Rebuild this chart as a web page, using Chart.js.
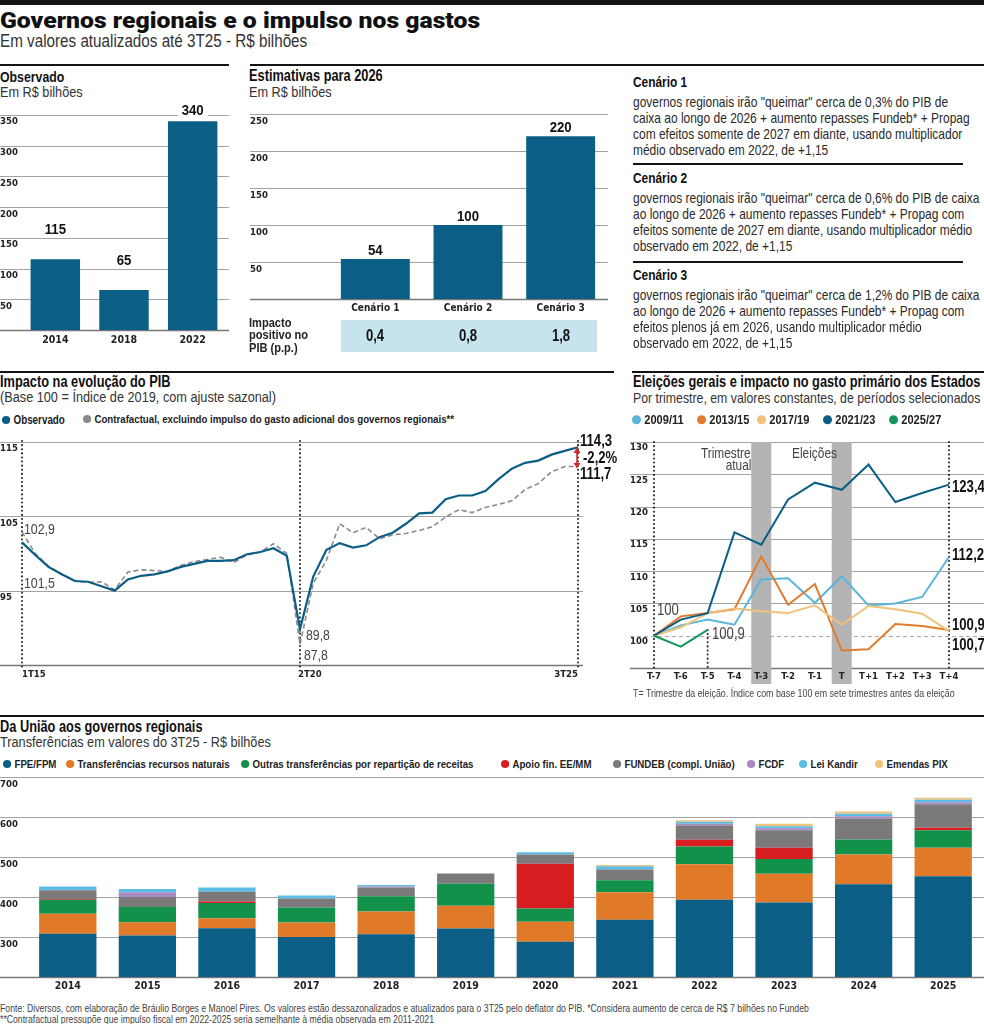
<!DOCTYPE html>
<html>
<head>
<meta charset="utf-8">
<script src="https://cdn.jsdelivr.net/npm/chart.js@4.4.1/dist/chart.umd.min.js"></script>
<style>
  body { margin: 0; background: #fff; }
  #page { position: relative; width: 984px; height: 1024px; overflow: hidden;
          font-family: "Liberation Sans", Arial, sans-serif; color: #222; }
  /* Liberation Sans apertada a 82% faz as vezes de uma fonte estreita */
  .c { position: absolute; white-space: nowrap; line-height: 1; transform-origin: 0 50%;
       transform: translateY(-50%) scaleX(0.82); }
  .r { transform-origin: 100% 50%; }
  .m { transform-origin: 50% 50%; }
  .rule { position: absolute; background: #141414; }
  canvas { position: absolute; }
  .title { font-family: Roboto, sans-serif; font-weight: 900; font-size: 22.5px; color: #111;
           transform: translateY(-50%) scaleX(1.1); }
  .h { font-weight: bold; font-size: 15.6px; color: #111; }
  .s { font-size: 15.5px; color: #333; }
  .p { font-size: 14.6px; color: #2a2a2a; }
  .lg { font-weight: bold; font-size: 11.8px; color: #222; }
  .dot { display: inline-block; width: 10px; height: 8px; border-radius: 50%; margin-right: 4px; vertical-align: 0; }
  .ann { font-size: 15px; color: #444; }
  .annb { font-size: 16px; font-weight: bold; color: #111; }
</style>
</head>
<body>
<div id="page">
  <div class="rule" style="left:0;top:0;width:984px;height:5px"></div>
  <div class="c title" style="left:0;top:20px">Governos regionais e o impulso nos gastos</div>
  <div class="c" style="left:0;top:42px;font-size:17.5px;color:#333;transform:translateY(-50%) scaleX(0.87)">Em valores atualizados até 3T25 - R$ bilhões</div>

  <!-- linha 1 -->
  <div class="rule" style="left:0;top:64px;width:229px;height:2px"></div>
  <div class="rule" style="left:250px;top:64px;width:734px;height:2px"></div>
  <div class="c h" style="left:0;top:76px;font-size:15px">Observado</div>
  <div class="c s" style="left:0;top:92px">Em R$ bilhões</div>
  <div class="c h" style="left:249px;top:76px">Estimativas para 2026</div>
  <div class="c s" style="left:249px;top:92px">Em R$ bilhões</div>
  <canvas id="obs" width="232" height="255" style="left:0;top:95px"></canvas>
  <canvas id="est" width="360" height="222" style="left:250px;top:95px"></canvas>

  <div style="position:absolute;left:341px;top:319.5px;width:256px;height:32px;background:#c6e3ee"></div>
  <div class="c" style="left:249px;top:323px;font-weight:bold;font-size:13.5px">Impacto</div>
  <div class="c" style="left:249px;top:335px;font-weight:bold;font-size:13.5px">positivo no</div>
  <div class="c" style="left:249px;top:347.5px;font-weight:bold;font-size:13.5px">PIB (p.p.)</div>
  <div id="impacto"></div>

  <div class="c h" style="left:633px;top:82px;font-size:14.5px">Cenário 1</div>
  <div class="c p" style="left:633px;top:102px">governos regionais irão "queimar" cerca de 0,3% do PIB de</div>
  <div class="c p" style="left:633px;top:118px">caixa ao longo de 2026 + aumento repasses Fundeb* + Propag</div>
  <div class="c p" style="left:633px;top:134px">com efeitos somente de 2027 em diante, usando multiplicador</div>
  <div class="c p" style="left:633px;top:150px">médio observado em 2022, de +1,15</div>
  <div class="rule" style="left:633px;top:163px;width:330px;height:1.5px"></div>
  <div class="c h" style="left:633px;top:177.5px;font-size:14.5px">Cenário 2</div>
  <div class="c p" style="left:633px;top:197.5px">governos regionais irão "queimar" cerca de 0,6% do PIB de caixa</div>
  <div class="c p" style="left:633px;top:213.5px">ao longo de 2026 + aumento repasses Fundeb* + Propag com</div>
  <div class="c p" style="left:633px;top:229.5px">efeitos somente de 2027 em diante, usando multiplicador médio</div>
  <div class="c p" style="left:633px;top:245.5px">observado em 2022, de +1,15</div>
  <div class="rule" style="left:633px;top:261px;width:330px;height:1.5px"></div>
  <div class="c h" style="left:633px;top:274.5px;font-size:14.5px">Cenário 3</div>
  <div class="c p" style="left:633px;top:294.5px">governos regionais irão "queimar" cerca de 1,2% do PIB de caixa</div>
  <div class="c p" style="left:633px;top:310.5px">ao longo de 2026 + aumento repasses Fundeb* + Propag com</div>
  <div class="c p" style="left:633px;top:326.5px">efeitos plenos já em 2026, usando multiplicador médio</div>
  <div class="c p" style="left:633px;top:342.5px">observado em 2022, de +1,15</div>

  <!-- linha 2 -->
  <div class="rule" style="left:0;top:370.5px;width:614px;height:2px"></div>
  <div class="rule" style="left:632px;top:370.5px;width:352px;height:2px"></div>
  <div class="c h" style="left:0;top:382px">Impacto na evolução do PIB</div>
  <div class="c s" style="left:0;top:397px">(Base 100 = Índice de 2019, com ajuste sazonal)</div>
  <div class="c lg" style="left:2px;top:420px;font-size:12px"><span class="dot" style="background:#0b5e86"></span>Observado</div>
  <div class="c lg" style="left:83px;top:420px;font-size:11.8px"><span class="dot" style="background:#8a8a8a"></span>Contrafactual, excluindo impulso do gasto adicional dos governos regionais**</div>
  <canvas id="pib" width="600" height="261" style="left:0;top:428px"></canvas>
  <div class="c ann" style="left:24px;top:528px">102,9</div>
  <div class="c ann" style="left:24px;top:582px">101,5</div>
  <div class="c ann" style="left:306px;top:634px">89,8</div>
  <div class="c ann" style="left:304px;top:654px">87,8</div>
  <div class="c annb" style="left:580px;top:441px">114,3</div>
  <div class="c annb" style="left:583px;top:457.5px">-2,2%</div>
  <div class="c annb" style="left:580px;top:474px">111,7</div>
  <svg style="position:absolute;left:572px;top:447px" width="10" height="22">
    <line x1="5" y1="4" x2="5" y2="18" stroke="#d62728" stroke-width="1.6"/>
    <polygon points="1.5,6 5,0.5 8.5,6" fill="#d62728"/>
    <polygon points="1.5,16 5,21.5 8.5,16" fill="#d62728"/>
  </svg>

  <div class="c h" style="left:633px;top:382px">Eleições gerais e impacto no gasto primário dos Estados</div>
  <div class="c s" style="left:633px;top:397px;font-size:15px">Por trimestre, em valores constantes, de períodos selecionados</div>
  <div id="elLegend"></div>
  <canvas id="ele" width="354" height="262" style="left:630px;top:428px"></canvas>
  <div class="c r" style="right:233px;top:453px;font-size:14.5px;color:#444">Trimestre</div>
  <div class="c r" style="right:233px;top:465px;font-size:14.5px;color:#444">atual</div>
  <div class="c" style="left:792px;top:453px;font-size:14.5px;color:#444">Eleições</div>
  <div class="c ann" style="left:657px;top:610px;font-size:16px">100</div>
  <div class="c ann" style="left:712px;top:634px;font-size:16px">100,9</div>
  <div class="c annb" style="left:952px;top:487px">123,4</div>
  <div class="c annb" style="left:952px;top:555px">112,2</div>
  <div class="c annb" style="left:952px;top:625px">100,9</div>
  <div class="c annb" style="left:952px;top:645px">100,7</div>
  <div class="c" style="left:633px;top:693px;font-size:10.8px;color:#444">T= Trimestre da eleição. Índice com base 100 em sete trimestres antes da eleição</div>

  <!-- linha 3 -->
  <div class="rule" style="left:0;top:715px;width:984px;height:2px"></div>
  <div class="c h" style="left:0;top:727px">Da União aos governos regionais</div>
  <div class="c s" style="left:0;top:742px">Transferências em valores do 3T25 - R$ bilhões</div>
  <div id="trLegend"></div>
  <canvas id="tra" width="984" height="231" style="left:0;top:768px"></canvas>
  <div class="c" style="left:0;top:1008px;font-size:10.6px;color:#444">Fonte: Diversos, com elaboração de Bráulio Borges e Manoel Pires. Os valores estão dessazonalizados e atualizados para o 3T25 pelo deflator do PIB. *Considera aumento de cerca de R$ 7 bilhões no Fundeb</div>
  <div class="c" style="left:0;top:1019px;font-size:10.6px;color:#444">**Contrafactual pressupõe que impulso fiscal em 2022-2025 seria semelhante à média observada em 2011-2021</div>
</div>

<script>
// ---- dados ----
const obsYears = ['2014', '2018', '2022'];
const obsValues = [115, 65, 340];
const obsTicks = [0, 50, 100, 150, 200, 250, 300, 350];

const cenarios = ['Cenário 1', 'Cenário 2', 'Cenário 3'];
const cenarioValues = [54, 100, 220];
const impactoPIB = ['0,4', '0,8', '1,8'];
const estTicks = [0, 50, 100, 150, 200, 250];

const quarters = ['1T15','2T15','3T15','4T15','1T16','2T16','3T16','4T16','1T17','2T17','3T17','4T17',
  '1T18','2T18','3T18','4T18','1T19','2T19','3T19','4T19','1T20','2T20','3T20','4T20',
  '1T21','2T21','3T21','4T21','1T22','2T22','3T22','4T22','1T23','2T23','3T23','4T23',
  '1T24','2T24','3T24','4T24','1T25','2T25','3T25'];
const pibObservado = [101.5, 99.8, 98.2, 97.2, 96.3, 96.2, 95.6, 95.0, 96.5, 97.0, 97.2, 97.6,
  98.2, 98.6, 99.0, 99.0, 99.1, 99.9, 100.2, 100.7, 99.7, 89.8, 96.9, 100.5,
  101.4, 100.8, 101.1, 102.2, 102.8, 104.0, 105.4, 105.5, 107.3, 107.8, 107.8, 108.4,
  110.0, 111.4, 112.2, 112.5, 113.3, 113.8, 114.3];
const pibContrafactual = [102.9, 100.0, 98.3, 97.2, 96.3, 96.1, 96.2, 95.1, 97.5, 97.8, 97.7, 97.6,
  98.4, 98.9, 99.2, 99.5, 98.8, 99.8, 100.2, 101.3, 100.0, 87.8, 96.0, 99.1,
  104.0, 102.8, 103.5, 102.0, 102.5, 102.7, 103.1, 103.6, 104.9, 105.9, 105.5, 106.2,
  106.6, 107.1, 108.6, 109.4, 111.0, 111.7, 111.7];
const pibTicks = [85, 95, 105, 115];
const pibMarked = ['1T15', '2T20', '3T25'];

const trimestres = ['T-7','T-6','T-5','T-4','T-3','T-2','T-1','T','T+1','T+2','T+3','T+4'];
const s2009 = [100, 101.6, 102.5, 101.7, 108.7, 108.9, 105.1, 109.2, 104.7, 105.0, 106.0, 112.2];
const s2013 = [100, 103.0, 103.5, 104.1, 112.3, 104.8, 108.0, 97.7, 97.9, 101.8, 101.5, 100.9];
const s2017 = [100, 101.3, 103.5, 104.2, 103.8, 103.5, 104.7, 101.7, 104.6, 104.1, 103.4, 100.7];
const s2021 = [100, 102.5, 103.5, 116.0, 114.1, 121.1, 123.7, 122.6, 126.5, 120.7, 122.1, 123.4];
const s2025 = [100, 98.3, 100.9, null, null, null, null, null, null, null, null, null];
const eleTicks = [95, 100, 105, 110, 115, 120, 125, 130];

const anos = ['2014','2015','2016','2017','2018','2019','2020','2021','2022','2023','2024','2025'];
const fpeFpm     = [308, 304, 322, 300, 307, 321, 288, 343, 393, 386, 432, 452];
const recNaturais = [50, 33, 25, 36, 57, 57, 50, 69, 89, 72, 74, 71];
const outrasRep  = [35, 38, 38, 38, 38, 55, 33, 30, 44, 37, 38, 44];
const apoioFin   = [2, 0, 4, 0, 0, 0, 112, 0, 17, 28, 0, 6];
const fundeb     = [22, 25, 24, 22, 22, 26, 23, 27, 36, 44, 52, 59];
const fcdf       = [0, 12, 0, 0, 2, 0, 0, 0, 4, 5, 6, 5];
const leiKandir  = [9, 8, 11, 8, 4, 0, 6, 8, 5, 5, 6, 6];
const emendasPix = [0, 0, 0, 0, 0, 0, 0, 3, 4, 6, 6, 5];
const traTicks = [200, 300, 400, 500, 600, 700];

// ---- estilo ----
const FONT = '"DejaVu Sans Condensed", "Liberation Sans", sans-serif';
const AZUL = '#0b5e86';
Chart.defaults.font.family = FONT;
Chart.defaults.color = '#222';
Chart.defaults.animation = false;
Chart.defaults.responsive = false;
Chart.defaults.plugins.legend.display = false;
Chart.defaults.plugins.tooltip.enabled = false;
Chart.defaults.elements.point.radius = 0;

function yScale(ticks, width, offset) {
  return {
    min: ticks[0], max: ticks[ticks.length - 1],
    grid: { display: false },
    border: { display: false },
    ticks: { crossAlign: 'far', labelOffset: offset, font: { size: 9.5, weight: 'bold' }, color: '#222',
             callback: v => v === ticks[0] ? '' : v },
    afterBuildTicks: s => { s.ticks = ticks.map(v => ({ value: v })); },
    afterFit: s => { s.width = width; }
  };
}
function xScale(height, size, pad, extra) {
  return Object.assign({
    grid: { display: false, drawTicks: false },
    border: { display: false },
    ticks: { font: { size: size, weight: 'bold' }, color: '#222', padding: pad, autoSkip: false, maxRotation: 0 },
    afterFit: s => { s.height = height; }
  }, extra || {});
}

// linhas de grade horizontais (a partir dos ticks do eixo y)
const hGrid = {
  id: 'hGrid',
  beforeDraw(chart, args, o) {
    const y = chart.scales.y, ctx = chart.ctx;
    ctx.save();
    y.ticks.forEach(t => {
      const py = Math.round(y.getPixelForValue(t.value)) + 0.5;
      const base = t.value === y.min;
      ctx.beginPath();
      ctx.lineWidth = base ? 1.4 : 1.1;
      ctx.strokeStyle = base ? '#777' : '#a3a3a3';
      ctx.setLineDash([]);
      if (t.value === o.dashed) { ctx.setLineDash([4, 3]); ctx.strokeStyle = '#aaa'; }
      ctx.moveTo(o.x0 || 0, py);
      ctx.lineTo(o.x1 || chart.width, py);
      ctx.stroke();
    });
    ctx.restore();
  }
};

// rótulos de valor sobre as barras
const barLabels = {
  id: 'barLabels',
  afterDatasetsDraw(chart, args, o) {
    const ctx = chart.ctx, meta = chart.getDatasetMeta(0), vals = chart.data.datasets[0].data;
    ctx.save();
    ctx.font = 'bold 15px "Liberation Sans", Arial, sans-serif';
    ctx.textAlign = 'center';
    ctx.textBaseline = 'middle';
    meta.data.forEach((bar, i) => {
      const y = Math.max(bar.y - o.gap, chart.chartArea.top - 5);
      const s = String(vals[i]);
      const w = ctx.measureText(s).width * 0.88;
      ctx.fillStyle = '#fff';
      ctx.fillRect(bar.x - w / 2 - 4, y - 7, w + 8, 14);
      ctx.save();
      ctx.translate(bar.x, y + 1);
      ctx.scale(0.88, 1);
      ctx.fillStyle = '#111';
      ctx.fillText(s, 0, 0);
      ctx.restore();
    });
    ctx.restore();
  }
};

// ---- Observado ----
new Chart(document.getElementById('obs'), {
  type: 'bar',
  data: { labels: obsYears, datasets: [{ data: obsValues, backgroundColor: AZUL, barPercentage: 0.72, categoryPercentage: 1 }] },
  options: {
    layout: { padding: { top: 20, right: 5, left: 0, bottom: 0 } },
    scales: { x: xScale(20, 10.5, 4), y: yScale(obsTicks, 21, 7) },
    plugins: { hGrid: { x0: 0, x1: 229 }, barLabels: { gap: 30 } }
  },
  plugins: [hGrid, barLabels]
});

// ---- Estimativas ----
const estChart = new Chart(document.getElementById('est'), {
  type: 'bar',
  data: { labels: cenarios, datasets: [{ data: cenarioValues, backgroundColor: AZUL, barPercentage: 0.744, categoryPercentage: 1 }] },
  options: {
    layout: { padding: { top: 19, right: 3, left: 0, bottom: 0 } },
    scales: { x: xScale(18, 10, 3), y: yScale(estTicks, 79, 8) },
    plugins: { hGrid: { x0: 0, x1: 358 }, barLabels: { gap: 9 } }
  },
  plugins: [hGrid, barLabels]
});
// valores do impacto no PIB, sob cada cenário
impactoPIB.forEach((v, i) => {
  const d = document.createElement('div');
  d.className = 'c m';
  d.style.cssText = 'top:335.5px;width:60px;text-align:center;font-weight:bold;font-size:16px;color:#111;left:' +
    (250 + estChart.getDatasetMeta(0).data[i].x - 30) + 'px';
  d.textContent = v;
  document.getElementById('impacto').appendChild(d);
});

// ---- PIB ----
const pibMarks = {
  id: 'pibMarks',
  beforeDatasetsDraw(chart) {
    const x = chart.scales.x, ca = chart.chartArea, ctx = chart.ctx;
    ctx.save();
    ctx.strokeStyle = '#222'; ctx.lineWidth = 2; ctx.lineCap = 'round'; ctx.setLineDash([0.1, 4]);
    pibMarked.forEach(q => {
      const px = x.getPixelForValue(quarters.indexOf(q));
      ctx.beginPath(); ctx.moveTo(px, ca.top - 1); ctx.lineTo(px, ca.bottom + 3); ctx.stroke();
    });
    ctx.setLineDash([]);
    ctx.font = 'bold 9.5px ' + FONT; ctx.fillStyle = '#222'; ctx.textBaseline = 'middle';
    const align = ['left', 'left', 'right'], dx = [0, -2, 0];
    pibMarked.forEach((q, k) => {
      ctx.textAlign = align[k];
      ctx.fillText(q, x.getPixelForValue(quarters.indexOf(q)) + dx[k], ca.bottom + 10);
    });
    ctx.restore();
  }
};
new Chart(document.getElementById('pib'), {
  type: 'line',
  data: {
    labels: quarters,
    datasets: [
      { label: 'Observado', data: pibObservado, borderColor: AZUL, borderWidth: 2.2, tension: 0 },
      { label: 'Contrafactual', data: pibContrafactual, borderColor: '#8a8a8a', borderWidth: 1.6, borderDash: [5, 3], tension: 0 }
    ]
  },
  options: {
    layout: { padding: { top: 14, right: 22, left: 0, bottom: 0 } },
    scales: { x: xScale(24, 9.5, 3, { ticks: { display: false } }), y: yScale(pibTicks, 22, 7) },
    plugins: { hGrid: { x0: 0, x1: 583 } }
  },
  plugins: [hGrid, pibMarks]
});

// ---- Eleições ----
const eleSeries = [
  { label: '2009/11', data: s2009, color: '#5ab5da' },
  { label: '2013/15', data: s2013, color: '#e07b2b' },
  { label: '2017/19', data: s2017, color: '#f0c27b' },
  { label: '2021/23', data: s2021, color: '#0b5e86' },
  { label: '2025/27', data: s2025, color: '#14965a' }
];
const eleLegendX = [632, 697, 757, 823, 889];
eleSeries.forEach((s, i) => {
  const d = document.createElement('div');
  d.className = 'c lg';
  d.style.cssText = 'top:420px;font-size:13.5px;left:' + eleLegendX[i] + 'px';
  d.innerHTML = '<span class="dot" style="width:11px;height:9px;background:' + s.color + '"></span>' + s.label;
  document.getElementById('elLegend').appendChild(d);
});
const eleBands = {
  id: 'eleBands',
  beforeDraw(chart) {
    const x = chart.scales.x, ca = chart.chartArea, ctx = chart.ctx;
    ctx.save();
    ctx.fillStyle = '#b4b4b4';
    ['T-3', 'T'].forEach(t => {
      const px = x.getPixelForValue(trimestres.indexOf(t));
      ctx.fillRect(px - 10, ca.top, 20, ca.bottom - ca.top + 16);
    });
    ctx.restore();
  },
  beforeDatasetsDraw(chart) {
    const x = chart.scales.x, y = chart.scales.y, ca = chart.chartArea, ctx = chart.ctx;
    ctx.save();
    ctx.strokeStyle = '#222'; ctx.lineWidth = 2; ctx.lineCap = 'round'; ctx.setLineDash([0.1, 4]);
    const lines = [[0, ca.top], [2, y.getPixelForValue(s2025[2])], [11, ca.top]];
    lines.forEach(([i, top]) => {
      const px = x.getPixelForValue(i);
      ctx.beginPath(); ctx.moveTo(px, top); ctx.lineTo(px, ca.bottom + 2); ctx.stroke();
    });
    ctx.restore();
  }
};
new Chart(document.getElementById('ele'), {
  type: 'line',
  data: {
    labels: trimestres,
    datasets: eleSeries.slice().reverse().map(s => ({ label: s.label, data: s.data, borderColor: s.color, borderWidth: 2, tension: 0 }))
  },
  options: {
    layout: { padding: { top: 14, right: 35, left: 0, bottom: 0 } },
    scales: { x: xScale(22, 9.5, 3), y: yScale(eleTicks, 24, 6) },
    plugins: { hGrid: { x0: 0, x1: 354, dashed: 100 } }
  },
  plugins: [hGrid, eleBands]
});

// ---- Transferências ----
const traSeries = [
  { label: 'FPE/FPM', data: fpeFpm, color: '#0b5e86' },
  { label: 'Transferências recursos naturais', data: recNaturais, color: '#e07a28' },
  { label: 'Outras transferências por repartição de receitas', data: outrasRep, color: '#12914b' },
  { label: 'Apoio fin. EE/MM', data: apoioFin, color: '#d71d20' },
  { label: 'FUNDEB (compl. União)', data: fundeb, color: '#7b7979' },
  { label: 'FCDF', data: fcdf, color: '#a98ac4' },
  { label: 'Lei Kandir', data: leiKandir, color: '#5bbde3' },
  { label: 'Emendas PIX', data: emendasPix, color: '#efc47a' }
];
const traLegendX = [3, 66, 241, 501, 613, 747, 799, 875];
traSeries.forEach((s, i) => {
  const d = document.createElement('div');
  d.className = 'c lg';
  d.style.cssText = 'top:765px;left:' + traLegendX[i] + 'px';
  d.innerHTML = '<span class="dot" style="background:' + s.color + '"></span>' + s.label;
  document.getElementById('trLegend').appendChild(d);
});
new Chart(document.getElementById('tra'), {
  type: 'bar',
  data: {
    labels: anos,
    datasets: traSeries.map(s => ({ label: s.label, data: s.data, backgroundColor: s.color,
      barPercentage: 0.72, categoryPercentage: 1, borderWidth: 0 }))
  },
  options: {
    layout: { padding: { top: 9, right: 1, left: 0, bottom: 0 } },
    scales: {
      x: xScale(22, 10.5, 3, { stacked: true }),
      y: Object.assign(yScale(traTicks, 28, 8), { stacked: true })
    },
    plugins: { hGrid: { x0: 0, x1: 984 } }
  },
  plugins: [hGrid]
});
</script>
</body>
</html>
